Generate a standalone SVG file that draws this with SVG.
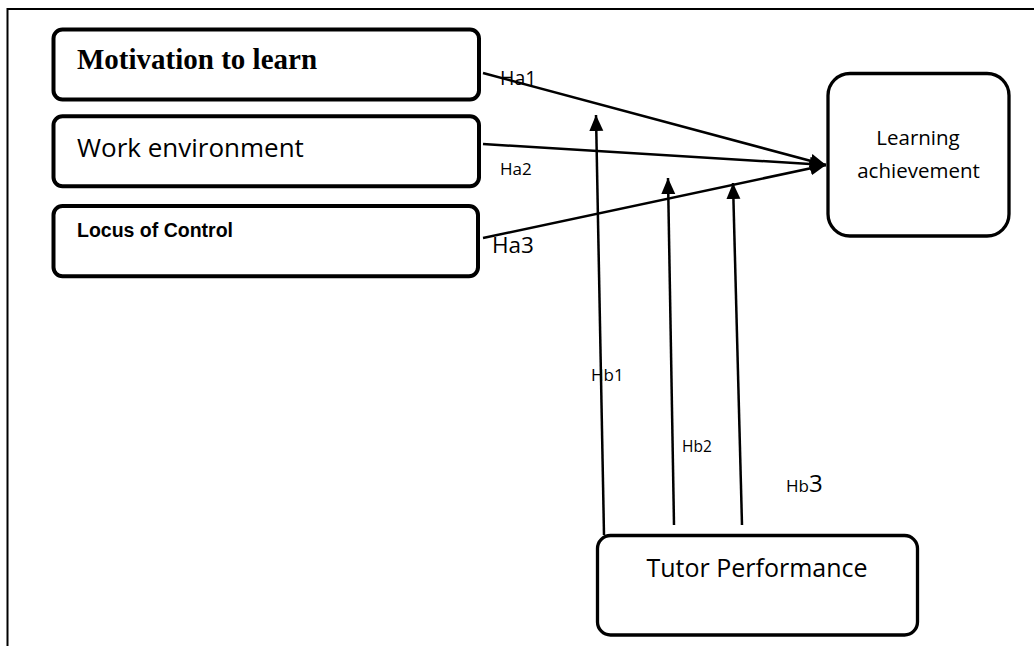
<svg xmlns="http://www.w3.org/2000/svg" width="1034" height="646" viewBox="0 0 1034 646">
<style>
.box{fill:#fff;stroke:#000;stroke-width:4}
.box3{fill:#fff;stroke:#000;stroke-width:3.3}
.edge{stroke:#000;stroke-width:2.5;fill:none;marker-end:url(#ah)}
.sans{font-family:"Open Sans","Noto Sans",sans-serif;fill:#000}
.frame{stroke:#000;stroke-width:2;fill:none}
</style>
<defs>
<marker id="ah" markerUnits="userSpaceOnUse" markerWidth="17" markerHeight="15" refX="16" refY="7" orient="auto">
<path d="M0,0 L16,7 L0,14 z" fill="#000"/>
</marker>
</defs>
<rect width="1034" height="646" fill="#fff"/>
<path class="frame" d="M7.5,646 V9 H1034"/>
<g id="motivation">
<rect class="box" x="53.5" y="29.5" width="425.5" height="70" rx="9"/>
<text x="77" y="69" font-family="Liberation Serif,serif" font-weight="bold" font-size="29">Motivation to learn</text>
</g>
<g id="work-environment">
<rect class="box" x="53.5" y="116.3" width="425.5" height="70" rx="9"/>
<text class="sans" x="77" y="157" font-size="26">Work environment</text>
</g>
<g id="locus-of-control">
<rect class="box" x="53.5" y="206" width="424.5" height="70.3" rx="9"/>
<text x="77" y="237" font-family="Liberation Sans,Arial,sans-serif" font-weight="bold" font-size="19.5">Locus of Control</text>
</g>
<g id="learning-achievement">
<rect class="box3" x="828" y="73.5" width="181" height="162.5" rx="22"/>
<text class="sans" x="918" y="145" font-size="20.5" text-anchor="middle">Learning</text>
<text class="sans" x="918.5" y="178" font-size="20.5" text-anchor="middle">achievement</text>
</g>
<g id="tutor-performance">
<rect class="box3" x="597.5" y="535.5" width="320" height="99.5" rx="13"/>
<text class="sans" x="757" y="577" font-size="25" text-anchor="middle">Tutor Performance</text>
</g>
<g id="connectors">
<line class="edge" x1="483" y1="73" x2="826" y2="165"/>
<line class="edge" x1="483" y1="144" x2="826" y2="165"/>
<line class="edge" x1="483" y1="238" x2="826" y2="165"/>
<line class="edge" x1="604" y1="535" x2="596" y2="115"/>
<line class="edge" x1="674" y1="525" x2="668" y2="178"/>
<line class="edge" x1="742" y1="525" x2="733" y2="183"/>
</g>
<g id="labels">
<text class="sans" x="500" y="85" font-size="19.5">Ha1</text>
<text class="sans" x="500" y="175" font-size="17">Ha2</text>
<text class="sans" x="492" y="253" font-size="22.5">Ha3</text>
<text class="sans" x="591" y="381" font-size="17">Hb1</text>
<text class="sans" x="682" y="452" font-size="15.5">Hb2</text>
<text class="sans" x="786" y="492" font-size="17">Hb<tspan font-size="24">3</tspan></text>
</g>
</svg>
